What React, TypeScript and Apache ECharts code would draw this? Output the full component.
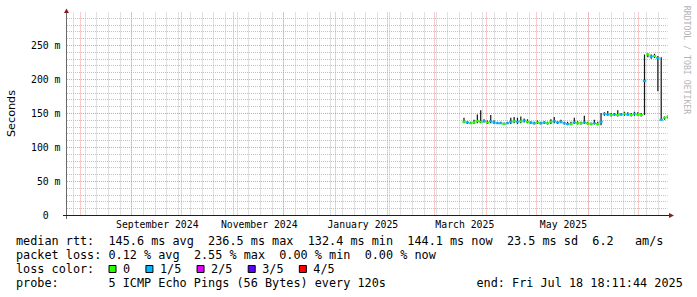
import { useEffect, useRef } from "react";
import * as echarts from "echarts";

const DAY = 86400000;
// x-range of the plot (UTC)
const X_MIN = Date.UTC(2024, 6, 24, 12, 0, 0);
const X_MAX = Date.UTC(2025, 6, 18, 18, 11, 44);
const Y_MAX = 298;

// consolidated bins: 2 days each, first bin starts 2025-03-18
const BIN_START = Date.UTC(2025, 2, 18);
const BIN = 2 * DAY;

// median rtt per bin (ms)
const medianMs = [
  137, 136, 135, 136, 138, 137, 138, 136, 138, 136,
  135, 135, 134, 135, 137, 138, 137, 138, 139, 137,
  136, 135, 136, 135, 136, 135, 137, 138, 136, 137,
  135, 134, 134, 136, 135, 135, 136, 135, 134, 135,
  134, 137, 149, 148, 147, 148, 147, 148, 149, 148,
  147, 149, 148, 147, 197, 236, 233, 234, 231, 140,
  143, 145,
];
// loss index per bin (0 = 0, 1 = 1/5 ...)
const lossIdx = [
  0, 1, 0, 0, 0, 0, 1, 0, 1, 1,
  1, 1, 0, 1, 1, 0, 1, 0, 1, 0,
  1, 1, 0, 1, 1, 0, 0, 1, 1, 1,
  1, 1, 0, 1, 0, 0, 1, 0, 0, 1,
  0, 1, 1, 1, 0, 1, 0, 1, 0, 1,
  0, 1, 0, 0, 1, 0, 1, 0, 1, 1,
  0, 0,
];
// smoke (spread of pings) per bin (ms)
const smokeLow = [
  135, 134, 134, 134, 135, 135, 136, 134, 135, 134,
  134, 134, 133, 134, 134, 135, 134, 135, 136, 135,
  134, 133, 134, 133, 134, 133, 134, 135, 134, 135,
  133, 132, 132, 134, 133, 133, 134, 133, 132, 133,
  132, 132, 146, 146, 145, 146, 145, 146, 146, 146,
  145, 146, 146, 145, 147, 232, 230, 231, 182, 139,
  140, 142,
];
const smokeHigh = [
  143, 138, 137, 140, 148, 154, 141, 139, 147, 139,
  137, 137, 136, 137, 143, 144, 143, 145, 142, 141,
  138, 137, 139, 137, 138, 137, 141, 144, 138, 140,
  137, 137, 137, 143, 138, 137, 146, 137, 136, 140,
  137, 150, 151, 153, 150, 150, 154, 150, 152, 151,
  150, 152, 151, 150, 236, 238, 236, 237, 234, 232,
  145, 146,
];

const LOSS_COLORS = ["#26ff00", "#00b8ff", "#dd00ff", "#5e00ff", "#ff0000"];
const LOSS_LABELS = ["0", "1/5", "2/5", "3/5", "4/5"];

// month gridlines
const MONTH_LINES = [
  "2024-08-01", "2024-09-01", "2024-10-01", "2024-11-01", "2024-12-01", "2025-01-01",
  "2025-02-01", "2025-03-01", "2025-04-01", "2025-05-01", "2025-06-01", "2025-07-01",
];
const FIRST_WEEK = Date.UTC(2024, 6, 28);
// x labels (centered on these dates)
const X_LABEL_DATES = ["2024-09-16", "2024-11-16", "2025-01-17", "2025-03-19", "2025-05-17"];
const X_LABEL_TEXTS = ["September 2024", "November 2024", "January 2025", "March 2025", "May 2025"];
const Y_MAJOR = [50, 100, 150, 200, 250];
const Y_MINOR_STEP = 10;

const LEGEND_ROWS = [
  "median rtt:  145.6 ms avg  236.5 ms max  132.4 ms min  144.1 ms now  23.5 ms sd  6.2   am/s",
  "packet loss: 0.12 % avg  2.55 % max  0.00 % min  0.00 % now",
  "loss color:",
  "probe:       5 ICMP Echo Pings (56 Bytes) every 120s",
];
const END_TEXT = "end: Fri Jul 18 18:11:44 2025";

const MONO = "DejaVu Sans Mono";
const PITCH = 7.115;
const LX0 = 16;
const ROW_Y = [241, 255, 269, 283];
const MINOR_COLOR = "#c2c2c2";
const MAJOR_COLOR = "#e99c9c";

const toUTC = (s: string) => {
  const [y, m, d] = s.split("-").map(Number);
  return Date.UTC(y, m - 1, d, 12);
};

function tokenTexts(line: string, x0: number, y: number) {
  const out: any[] = [];
  const re = /\S+(?: \S+)*/g;
  let m: RegExpExecArray | null;
  while ((m = re.exec(line))) {
    out.push({
      type: "text",
      x: x0 + m.index * PITCH,
      y,
      style: {
        text: m[0],
        fill: "#000",
        fontFamily: MONO,
        fontSize: 11.82,
        align: "left",
        textAlign: "left",
        verticalAlign: "middle",
        textVerticalAlign: "middle",
      },
    });
  }
  return out;
}

export default function App() {
  const ref = useRef<HTMLDivElement>(null);
  useEffect(() => {
    document.body.style.margin = "0";
    if (!ref.current) return;
    const chart = echarts.init(ref.current, undefined, { renderer: "svg" });

    // grid rows: [orientation (0 vertical / 1 horizontal), value, major]
    const gridRows: number[][] = [];
    for (let t = FIRST_WEEK; t < X_MAX; t += 7 * DAY) gridRows.push([0, t, 0]);
    for (let v = Y_MINOR_STEP; v < Y_MAX; v += Y_MINOR_STEP) if (v % 50 !== 0) gridRows.push([1, v, 0]);
    MONTH_LINES.forEach((s) => gridRows.push([0, toUTC(s) - 12 * 3600000, 1]));
    Y_MAJOR.forEach((v) => gridRows.push([1, v, 1]));
    const labelTimes = X_LABEL_DATES.map(toUTC);

    const data = medianMs.map((m, i) => [BIN_START + i * BIN, m, lossIdx[i], smokeLow[i], smokeHigh[i]]);

    const graphic: any[] = [
      // axes
      { type: "line", shape: { x1: 66.5, y1: 12, x2: 66.5, y2: 219 }, style: { stroke: "#6a6a6a", lineWidth: 1 }, z: 10 },
      { type: "line", shape: { x1: 63, y1: 215.5, x2: 669, y2: 215.5 }, style: { stroke: "#1f1f1f", lineWidth: 1 }, z: 10 },
      { type: "polygon", shape: { points: [[64, 13], [69, 13], [66.5, 8.5]] }, style: { fill: "#801f1f" }, z: 10 },
      { type: "polygon", shape: { points: [[669, 213], [669, 218], [674, 215.5]] }, style: { fill: "#801f1f" }, z: 10 },
      {
        type: "text", x: 11, y: 113.5, rotation: Math.PI / 2,
        style: { text: "Seconds", fill: "#000", fontFamily: "DejaVu Sans", fontSize: 11.2, align: "center", textAlign: "center", verticalAlign: "middle", textVerticalAlign: "middle" },
      },
      {
        type: "text", x: 687, y: 60, rotation: -Math.PI / 2,
        style: { text: "RRDTOOL / TOBI OETIKER", fill: "#b4b4b4", fontFamily: MONO, fontSize: 8.2, align: "center", textAlign: "center", verticalAlign: "middle", textVerticalAlign: "middle" },
      },
    ];
    LEGEND_ROWS.forEach((row, i) => graphic.push(...tokenTexts(row, LX0, ROW_Y[i])));
    graphic.push({
      type: "text", x: 476.5, y: ROW_Y[3],
      style: { text: END_TEXT, fill: "#000", fontFamily: MONO, fontSize: 11.82, align: "left", textAlign: "left", verticalAlign: "middle", textVerticalAlign: "middle" },
    });
    let bx = 108.5;
    LOSS_LABELS.forEach((lab, i) => {
      graphic.push({ type: "rect", shape: { x: bx + 0.5, y: 265.5, width: 7, height: 7 }, style: { fill: LOSS_COLORS[i], stroke: "#000", lineWidth: 1 } });
      graphic.push(...tokenTexts(lab, bx + 14.5, ROW_Y[2]));
      bx += 14.5 + lab.length * PITCH + 15.3;
    });

    chart.setOption({
      animation: false,
      backgroundColor: "#fff",
      grid: { left: 67, right: 29.5, top: 12.4, bottom: 82, containLabel: false, outerBoundsMode: "none" } as any,
      xAxis: {
        type: "value",
        min: X_MIN,
        max: X_MAX,
        axisLine: { show: false },
        axisTick: { show: false },
        splitLine: { show: false },
        axisLabel: {
          customValues: labelTimes,
          formatter: (v: number) => {
            const i = labelTimes.findIndex((t) => Math.abs(t - v) < 60000);
            return i >= 0 ? X_LABEL_TEXTS[i] : "";
          },
          fontFamily: MONO,
          fontSize: 9.8,
          color: "#000",
          margin: 9.4,
          verticalAlign: "middle",
          hideOverlap: false,
          showMinLabel: true,
          showMaxLabel: true,
        },
      } as any,
      yAxis: {
        type: "value",
        min: 0,
        max: Y_MAX,
        interval: 50,
        axisLine: { show: false },
        axisTick: { show: false },
        splitLine: { show: false },
        axisLabel: {
          showMaxLabel: false,
          formatter: (v: number) => (v === 0 ? "{z|0}" : `${v} m`),
          rich: { z: { fontFamily: MONO, fontSize: 9.8, color: "#000", padding: [0, 11.8, 0, 0] } },
          fontFamily: MONO,
          fontSize: 9.8,
          color: "#000",
          margin: 6.5,
        },
      },
      graphic,
      series: [
        {
          type: "custom",
          clip: false,
          z: 1,
          silent: true,
          data: gridRows,
          encode: { x: [], y: [] },
          renderItem: (_p: any, api: any) => {
            const o = api.value(0);
            const v = api.value(1);
            const major = api.value(2) === 1;
            const stroke = major ? MAJOR_COLOR : MINOR_COLOR;
            if (o === 0) {
              const pb = api.coord([v, 0]);
              const pt = api.coord([v, Y_MAX]);
              const x = Math.round(pb[0]) + 0.5;
              return { type: "line", z2: major ? 2 : 1, shape: { x1: x, y1: pt[1], x2: x, y2: pb[1] }, style: { stroke, lineWidth: 1, lineDash: [1, 1] } };
            }
            const pl = api.coord([X_MIN, v]);
            const pr = api.coord([X_MAX, v]);
            const y = Math.round(pl[1]) + 0.5;
            return { type: "line", z2: major ? 2 : 1, shape: { x1: pl[0], y1: y, x2: pr[0], y2: y }, style: { stroke, lineWidth: 1, lineDash: [1, 1] } };
          },
        },
        {
          type: "custom",
          clip: true,
          z: 5,
          silent: true,
          data,
          encode: { x: 0, y: 1 },
          renderItem: (_p: any, api: any) => {
            const t = api.value(0);
            const m = api.value(1);
            const l = api.value(2);
            const lo = api.value(3);
            const hi = api.value(4);
            const p0 = api.coord([t, m]);
            const p1 = api.coord([t + BIN, m]);
            const pLo = api.coord([t, lo]);
            const pHi = api.coord([t, hi]);
            const cx = (p0[0] + p1[0]) / 2;
            return {
              type: "group",
              children: [
                { type: "rect", shape: { x: cx - 0.6, y: pHi[1], width: 1.2, height: pLo[1] - pHi[1] }, style: { fill: "#141414" } },
                { type: "line", shape: { x1: p0[0], y1: p0[1], x2: p1[0], y2: p1[1] }, style: { stroke: LOSS_COLORS[l], lineWidth: 2 } },
              ],
            };
          },
        },
      ],
    });
    return () => chart.dispose();
  }, []);
  return <div ref={ref} style={{ width: 697, height: 297 }} />;
}
